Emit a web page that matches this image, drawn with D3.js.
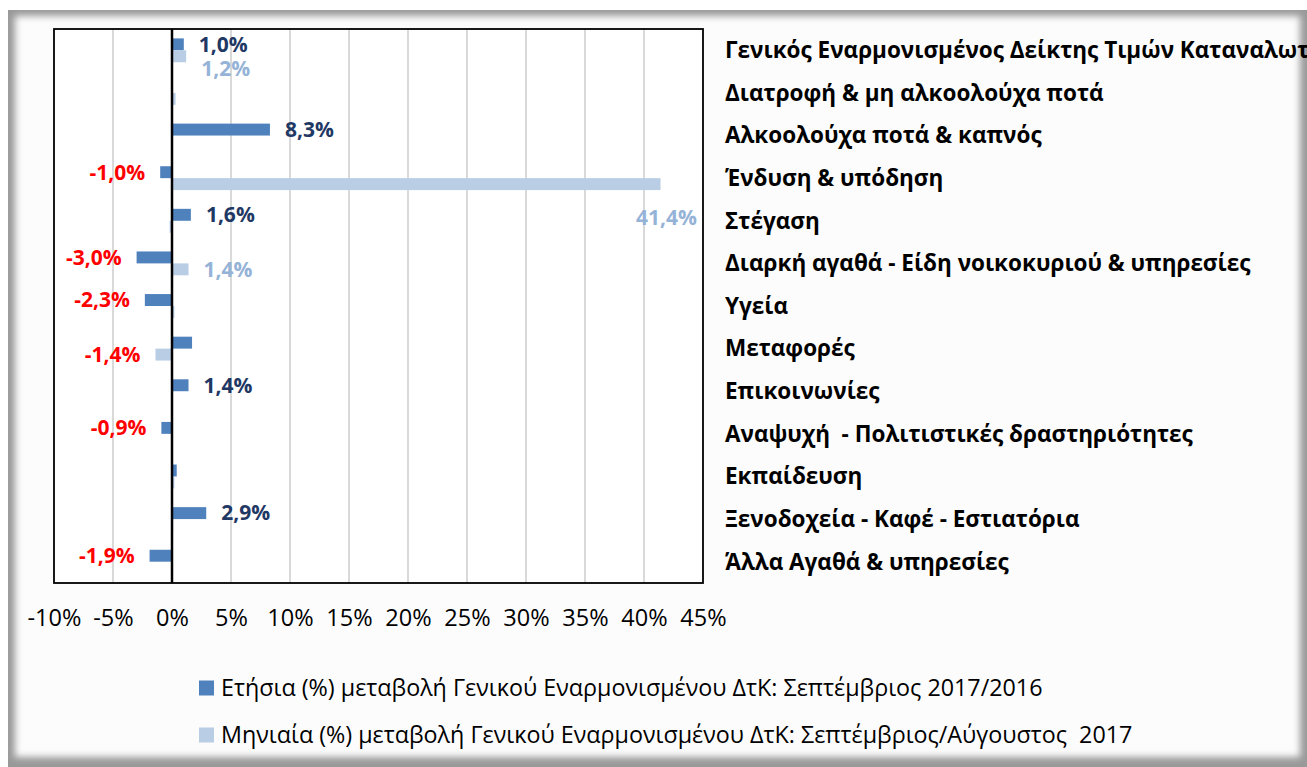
<!DOCTYPE html>
<html>
<head>
<meta charset="utf-8">
<script src="https://cdn.jsdelivr.net/npm/d3@7"></script>
<style>
  body { margin: 0; background: #fff; }
  svg { display: block; }
  text { font-family: "Open Sans", "Noto Sans", sans-serif; white-space: pre; }
</style>
</head>
<body>
<div id="chart"></div>
<script>
// categories (top to bottom)
const categories = [
  "Γενικός Εναρμονισμένος Δείκτης Τιμών Καταναλωτή",
  "Διατροφή & μη αλκοολούχα ποτά",
  "Αλκοολούχα ποτά & καπνός",
  "Ένδυση & υπόδηση",
  "Στέγαση",
  "Διαρκή αγαθά - Είδη νοικοκυριού & υπηρεσίες",
  "Υγεία",
  "Μεταφορές",
  "Επικοινωνίες",
  "Αναψυχή  - Πολιτιστικές δραστηριότητες",
  "Εκπαίδευση",
  "Ξενοδοχεία - Καφέ - Εστιατόρια",
  "Άλλα Αγαθά & υπηρεσίες"
];

// annual change (%) Sep 2017/2016
const annualValues = [1.0, 0.0, 8.3, -1.0, 1.6, -3.0, -2.3, 1.7, 1.4, -0.9, 0.4, 2.9, -1.9];
const annualShowLabel = [true, false, true, true, true, true, true, false, true, true, false, true, true];

// monthly change (%) Sep/Aug 2017
const monthlyValues = [1.2, 0.3, 0.0, 41.4, -0.2, 1.4, 0.2, -1.4, 0.0, 0.0, 0.2, 0.1, 0.0];
const monthlyShowLabel = [true, false, false, true, false, true, false, true, false, false, false, false, false];

const seriesNames = [
  "Ετήσια (%) μεταβολή Γενικού Εναρμονισμένου ΔτΚ: Σεπτέμβριος 2017/2016",
  "Μηνιαία (%) μεταβολή Γενικού Εναρμονισμένου ΔτΚ: Σεπτέμβριος/Αύγουστος  2017"
];
const seriesColors = ["#4f81bd", "#b9cde5"];
const labelColors = ["#1f3864", "#95b3d7"];

const xTicks = [-10, -5, 0, 5, 10, 15, 20, 25, 30, 35, 40, 45];

const W = 1307, H = 767;
const plot = { left: 54, right: 703, top: 29, bottom: 583 };

const svg = d3.select("#chart").append("svg")
  .attr("width", W)
  .attr("height", H);

// soft grey frame around the chart
const defs = svg.append("defs");
defs.append("filter").attr("id", "soft")
  .attr("x", "-5%").attr("y", "-5%").attr("width", "110%").attr("height", "110%")
  .append("feGaussianBlur").attr("stdDeviation", 3.5);

svg.append("rect").attr("width", W).attr("height", H).attr("fill", "#fff");
svg.append("rect")
  .attr("x", 8).attr("y", 10).attr("width", W - 8).attr("height", H - 10)
  .attr("fill", "#999");
svg.append("rect")
  .attr("x", 15).attr("y", 16).attr("width", W - 22).attr("height", H - 26)
  .attr("fill", "#fcfcfc")
  .attr("filter", "url(#soft)");

const x = d3.scaleLinear().domain([-10, 45]).range([plot.left, plot.right]);
const y = d3.scaleBand().domain(d3.range(categories.length))
  .range([plot.top, plot.bottom])
  .paddingInner(0.44).paddingOuter(0.22);
const ySub = d3.scaleBand().domain([0, 1]).range([0, y.bandwidth()]);

// plot area
svg.append("rect")
  .attr("x", plot.left).attr("y", plot.top)
  .attr("width", plot.right - plot.left).attr("height", plot.bottom - plot.top)
  .attr("fill", "#fff");

// gridlines
svg.append("g")
  .selectAll("line")
  .data(xTicks.filter(d => d !== 0 && d !== -10 && d !== 45))
  .enter().append("line")
  .attr("x1", d => x(d)).attr("x2", d => x(d))
  .attr("y1", plot.top).attr("y2", plot.bottom)
  .attr("stroke", "#d9d9d9")
  .attr("stroke-width", 2);

// bars
const series = [annualValues, monthlyValues];
series.forEach((vals, s) => {
  svg.append("g")
    .selectAll("rect")
    .data(vals)
    .enter().append("rect")
    .attr("x", d => x(Math.min(0, d)))
    .attr("width", d => Math.abs(x(d) - x(0)))
    .attr("y", (d, i) => y(i) + ySub(s))
    .attr("height", ySub.bandwidth())
    .attr("fill", seriesColors[s]);
});

// zero line and border
svg.append("line")
  .attr("x1", x(0)).attr("x2", x(0))
  .attr("y1", plot.top).attr("y2", plot.bottom)
  .attr("stroke", "#000").attr("stroke-width", 2.5);
svg.append("rect")
  .attr("x", plot.left).attr("y", plot.top)
  .attr("width", plot.right - plot.left).attr("height", plot.bottom - plot.top)
  .attr("fill", "none").attr("stroke", "#000").attr("stroke-width", 1.8);

// x axis labels
const xAxis = d3.axisBottom(x).tickValues(xTicks).tickSize(0).tickPadding(0)
  .tickFormat(d => d + "%");
const xg = svg.append("g").attr("transform", `translate(0, ${618})`).call(xAxis);
xg.select(".domain").remove();
xg.selectAll("text")
  .attr("dy", "0.35em")
  .attr("fill", "#000")
  .style("font-size", "23.5px")
  .style("font-family", "'Open Sans', sans-serif");

// category labels on the right
svg.append("g")
  .selectAll("text")
  .data(categories)
  .enter().append("text")
  .attr("x", 725)
  .attr("y", (d, i) => y(i) + y.bandwidth() / 2)
  .attr("dy", "0.35em")
  .style("font-size", "22.5px")
  .style("font-weight", "bold")
  .attr("fill", "#000")
  .text(d => d);

// data labels (hyphen minus, comma decimal)
const fmt = v => (v < 0 ? "-" : "") + Math.abs(v).toFixed(1).replace(".", ",") + "%";
const labelG = svg.append("g")
  .style("font-size", "21px")
  .style("font-weight", "bold");

const showLabels = [annualShowLabel, monthlyShowLabel];
series.forEach((vals, s) => {
  vals.forEach((v, i) => {
    if (!showLabels[s][i]) return;
    let cy = y(i) + ySub(s) + ySub.bandwidth() / 2;
    let lx = v < 0 ? x(v) - 15 : x(v) + 15;
    let anchor = v < 0 ? "end" : "start";
    // label would run out of the plot: tuck it under the bar, right-aligned
    if (lx + 60 > plot.right) {
      lx = plot.right - 6;
      anchor = "end";
      cy += 34;
    }
    // avoid overlapping the annual label on the same side of the row
    if (s === 1 && annualShowLabel[i] && Math.sign(annualValues[i]) === Math.sign(v)) {
      cy += 12;
    }
    labelG.append("text")
      .attr("x", lx)
      .attr("y", cy)
      .attr("dy", "0.35em")
      .attr("text-anchor", anchor)
      .attr("fill", v < 0 ? "#ff0000" : labelColors[s])
      .text(fmt(v));
  });
});

// legend
const legend = svg.append("g")
  .selectAll("g")
  .data(seriesNames)
  .enter().append("g")
  .attr("transform", (d, i) => `translate(199, ${688 + i * 47})`);
legend.append("rect")
  .attr("x", 0).attr("y", -7.5)
  .attr("width", 15).attr("height", 15)
  .attr("fill", (d, i) => seriesColors[i]);
legend.append("text")
  .attr("x", 22)
  .attr("dy", "0.35em")
  .style("font-size", "23.3px")
  .attr("fill", "#000")
  .text(d => d);
</script>
</body>
</html>
